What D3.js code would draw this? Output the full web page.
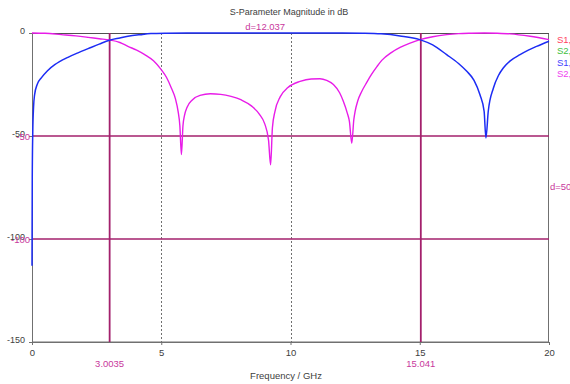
<!DOCTYPE html>
<html><head><meta charset="utf-8">
<script src="https://cdn.jsdelivr.net/npm/d3@7"></script>
<style>html,body{margin:0;padding:0;background:#fff;overflow:hidden}svg{display:block}text{font-family:"Liberation Sans",Arial,sans-serif}</style>
</head><body>
<script>
const xTicks = [0, 5, 10, 15, 20];
const yTicks = [0, -50, -100, -150];
const markerX = [3.0035, 15.041];
const markerXLabels = ["3.0035", "15.041"];
const markerY = [-50, -100];
const markerYLabels = ["-50", "-100"];
const deltaXLabel = "d=12.037";
const deltaYLabel = "d=50";
const legendLabels = ["S1,1", "S2,1", "S1,2", "S2,2"];
const legendColors = ["#ff3f5f", "#3fbf3f", "#3f3fff", "#ef3fef"];
// blue trace (frequency GHz, dB)
const blueF = [0,0.01,0.03,0.06,0.1,0.2,0.36,0.6,0.88,1.39,1.8,2.17,2.6,3.0,3.4,3.71,4.2,4.6,5.2,6,8,10,12,12.8,13.5,14.24,15.0,15.5,16.04,16.5,16.82,17.1,17.33,17.49,17.56,17.65,17.85,18.05,18.23,18.5,18.88,19.2,19.52,20];
const blueDB = [-113,-70,-48,-36,-30,-25,-21.8,-18.3,-15.4,-11.8,-9.5,-7.6,-5.4,-3.5,-2.4,-1.6,-0.8,-0.3,-0.1,-0.02,0,0,0,-0.1,-0.4,-1.4,-3.2,-5.8,-10.5,-14.8,-18.6,-23,-30,-38,-51,-38,-26.7,-20.5,-17,-13.5,-10.5,-8.3,-6.5,-4];
// magenta trace
const magF = [0,0.5,1.13,1.7,2.17,2.6,3.0,3.4,3.71,4.05,4.36,4.7,5.0,5.2,5.39,5.55,5.65,5.72,5.78,5.84,5.9,6.0,6.2,6.5,6.9,7.3,7.7,8.1,8.5,8.8,9.0,9.15,9.23,9.3,9.4,9.6,9.9,10.37,10.8,11.14,11.4,11.66,11.9,12.04,12.2,12.28,12.37,12.45,12.5,12.6,12.75,12.95,13.14,13.35,13.53,13.9,14.24,14.6,15.01,15.5,16.04,16.5,17,17.5,18,18.5,19.27,20];
const magDB = [0,-0.15,-0.8,-1.4,-2.1,-2.8,-3.4,-4.6,-6.5,-8.3,-10.5,-13.5,-17.8,-21.5,-26.7,-32,-37.9,-45,-59,-45,-40,-36,-32.5,-30.3,-29.5,-29.8,-30.8,-32.5,-35.5,-39.5,-44,-52,-64,-46,-38,-31,-26.5,-23.5,-22.3,-22.2,-23,-25,-29,-33,-39,-43,-53.5,-42,-38,-33,-28.5,-24,-20,-16.2,-13.3,-9.5,-7,-5,-3.2,-1.8,-0.8,-0.3,-0.1,0,-0.1,-0.4,-1.6,-3.2];

const W = 570, H = 384;
const svg = d3.select("body").append("svg").attr("width", W).attr("height", H);
const x = d3.scaleLinear().domain([0, 20]).range([32, 549]);
const y = d3.scaleLinear().domain([-150, 0]).range([342, 33]);
const mk = "#a3206c", lbl = "#c8389c", axc = "#707070", txt = "#404040";
const FF = "Liberation Sans, Arial, sans-serif";

svg.append("defs").append("clipPath").attr("id", "clip")
  .append("rect").attr("x", 30).attr("y", 32).attr("width", 520).attr("height", 311);

// dotted grid
svg.append("g").selectAll("line").data(xTicks.slice(1, -1)).join("line")
  .attr("x1", d => Math.round(x(d)) + 0.5).attr("x2", d => Math.round(x(d)) + 0.5).attr("y1", 33).attr("y2", 345)
  .attr("stroke", "#707070").attr("stroke-width", 1).attr("stroke-dasharray", "2,2");

// frame
svg.append("rect").attr("x", 32.5).attr("y", 33.5).attr("width", 516).attr("height", 308.5)
  .attr("fill", "none").attr("stroke", axc).attr("stroke-width", 1);
svg.append("line").attr("x1", 32).attr("x2", 549).attr("y1", 33.5).attr("y2", 33.5).attr("stroke", "#505050");

// axes
const xa = svg.append("g").attr("transform", "translate(0,342)")
  .call(d3.axisBottom(x).tickValues(xTicks).tickSize(3).tickFormat(d => String(d)));
xa.select(".domain").attr("stroke", axc);
xa.selectAll(".tick line").attr("stroke", axc);
xa.selectAll("text").attr("fill", txt).attr("font-size", 9.5).attr("y", 0).attr("dy", 0)
  .attr("transform", "translate(0,14)").attr("font-family", FF);

const ya = svg.append("g").attr("transform", "translate(32,0)")
  .call(d3.axisLeft(y).tickValues(yTicks).tickSize(3).tickFormat(d => String(d)));
ya.select(".domain").attr("stroke", axc);
ya.selectAll(".tick line").attr("stroke", axc);
ya.selectAll("text").attr("fill", txt).attr("font-size", 9).attr("x", -7).attr("dy", 0)
  .attr("font-family", FF);

// marker lines
svg.append("g").selectAll("line").data(markerY).join("line")
  .attr("x1", 32).attr("x2", 549).attr("y1", d => y(d)).attr("y2", d => y(d))
  .attr("stroke", mk).attr("stroke-width", 1.6);
svg.append("g").selectAll("line").data(markerX).join("line")
  .attr("x1", d => x(d)).attr("x2", d => x(d)).attr("y1", 33).attr("y2", 342)
  .attr("stroke", mk).attr("stroke-width", 1.8);

// traces
const line = d3.line().curve(d3.curveMonotoneX);
const g = svg.append("g").attr("clip-path", "url(#clip)");
g.append("path").attr("d", line(magF.map((f, i) => [x(f), y(magDB[i])])))
  .attr("fill", "none").attr("stroke", "#e81ce8").attr("stroke-width", 1.4);
g.append("path").attr("d", line(blueF.map((f, i) => [x(f), y(blueDB[i])])))
  .attr("fill", "none").attr("stroke", "#1c2cf4").attr("stroke-width", 1.5);

// marker labels
svg.append("g").selectAll("text").data(markerX).join("text")
  .attr("x", d => x(d)).attr("y", 367).attr("text-anchor", "middle")
  .attr("font-size", 9.5).attr("fill", lbl).text((d, i) => markerXLabels[i]);
svg.append("g").selectAll("text").data(markerY).join("text")
  .attr("x", 30).attr("y", d => y(d) + 3.5).attr("text-anchor", "end")
  .attr("font-size", 9.5).attr("fill", lbl).text((d, i) => markerYLabels[i]);
svg.append("text").attr("x", (x(markerX[0]) + x(markerX[1])) / 2).attr("y", 30)
  .attr("text-anchor", "middle").attr("font-size", 9.5).attr("fill", lbl).text(deltaXLabel);
svg.append("text").attr("x", 550).attr("y", 190).attr("font-size", 9.5).attr("fill", lbl)
  .text(deltaYLabel);

// titles
svg.append("text").attr("x", 289).attr("y", 15).attr("text-anchor", "middle")
  .attr("font-size", 9).attr("fill", txt).text("S-Parameter Magnitude in dB");
svg.append("text").attr("x", 286).attr("y", 379).attr("text-anchor", "middle")
  .attr("font-size", 9.5).attr("fill", txt).text("Frequency / GHz");

// legend
svg.append("g").selectAll("text").data(legendLabels).join("text")
  .attr("x", 557).attr("y", (d, i) => 43 + i * 11.3).attr("font-size", 9.5)
  .attr("fill", (d, i) => legendColors[i]).text(d => d);
</script>
</body></html>
